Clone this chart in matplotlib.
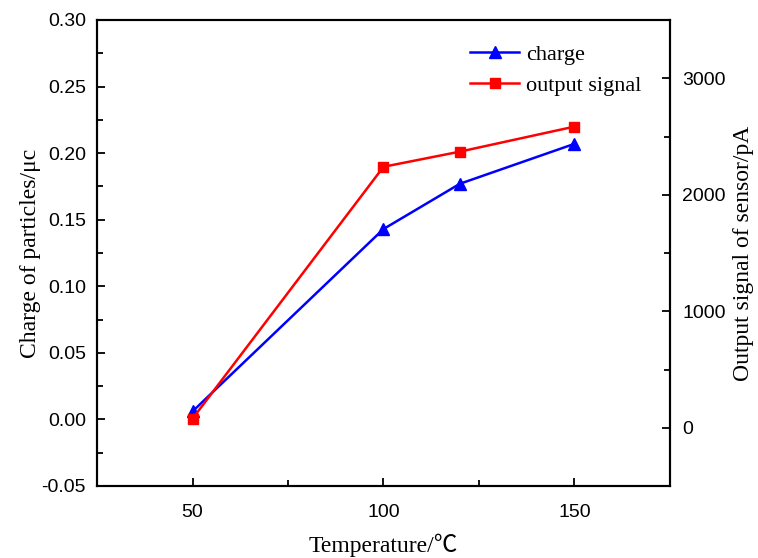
import matplotlib.pyplot as plt
from matplotlib.ticker import MultipleLocator, FormatStrFormatter

plt.rcParams['axes.unicode_minus'] = False

# data
temperature = [50, 100, 120, 150]
charge = [0.006, 0.143, 0.177, 0.207]
output_signal = [78, 2240, 2370, 2585]

serif = ['Liberation Serif', 'Noto Sans CJK SC', 'DejaVu Sans']
sans = 'Liberation Sans'

fig = plt.figure(figsize=(7.58, 5.58), dpi=100)
ax = fig.add_axes([97 / 758, 1 - 486 / 558, (670 - 97) / 758, (486 - 20) / 558])
ax2 = ax.twinx()

l1, = ax.plot(temperature, charge, color='#0000ff', lw=1.8, marker='^', ms=9, label='charge')
l2, = ax2.plot(temperature, output_signal, color='#ff0000', lw=1.8, marker='s', ms=7.5, label='output signal')

ax.set_xlim(25, 175)
ax.set_ylim(-0.05, 0.30)
ax2.set_ylim(-500, 3500)

ax.xaxis.set_major_locator(MultipleLocator(50))
ax.xaxis.set_minor_locator(MultipleLocator(25))
ax.yaxis.set_major_locator(MultipleLocator(0.05))
ax.yaxis.set_minor_locator(MultipleLocator(0.025))
ax.yaxis.set_major_formatter(FormatStrFormatter('%.2f'))
ax2.set_yticks([0, 1000, 2000, 3000])
ax2.yaxis.set_minor_locator(MultipleLocator(500))

for a in (ax, ax2):
    a.tick_params(which='major', direction='in', length=6, width=1.3, labelsize=14)
    a.tick_params(which='minor', direction='in', length=4, width=1.3)
    for s in a.spines.values():
        s.set_linewidth(1.5)
    for lab in a.get_xticklabels() + a.get_yticklabels():
        lab.set_fontfamily(sans)
ax.tick_params(axis='x', which='both', top=False)
ax.tick_params(axis='y', which='both', right=False)
ax.tick_params(axis='x', pad=13)
ax.tick_params(axis='y', pad=8)
ax2.tick_params(axis='y', pad=9)

ax.set_xlabel('Temperature/℃', family=serif, fontsize=17, labelpad=9)
ax.set_ylabel('Charge of particles/μc', family=serif, fontsize=17, labelpad=0)
ax2.set_ylabel('Output signal of sensor/pA', family=serif, fontsize=17, labelpad=5)

leg = ax.legend([l1, l2], ['charge', 'output signal'], loc='upper right',
                bbox_to_anchor=(0.985, 0.99), frameon=False, handlelength=2.2,
                handletextpad=0.3, labelspacing=0.45,
                prop={'family': 'Liberation Serif', 'size': 16})

fig.savefig('out.png', dpi=100)
